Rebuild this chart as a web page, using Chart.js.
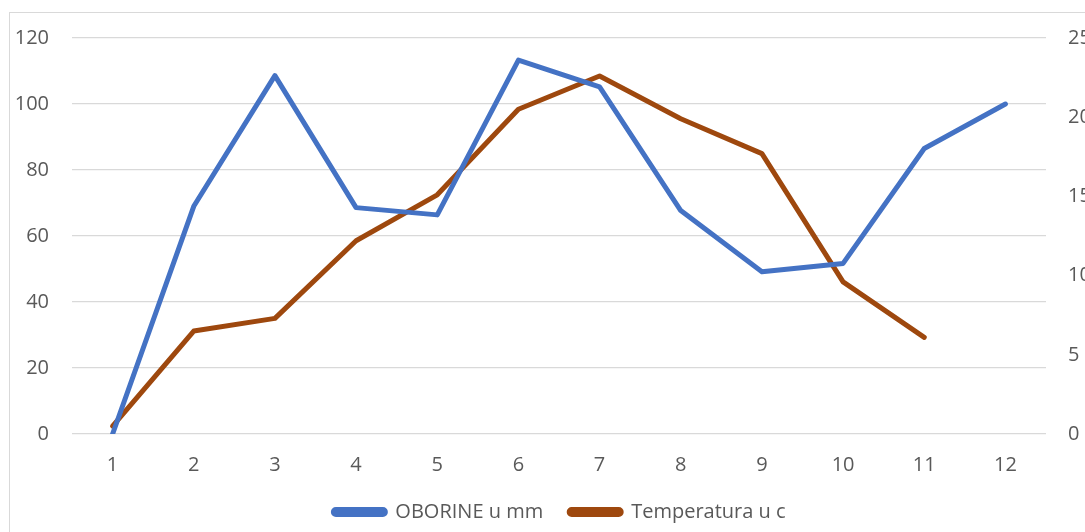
<!DOCTYPE html>
<html>
<head>
<meta charset="utf-8">
<script src="https://cdn.jsdelivr.net/npm/chart.js@4.4.1/dist/chart.umd.min.js"></script>
<style>
  html, body { margin: 0; padding: 0; background: #ffffff; overflow: hidden; }
  #frame { position: absolute; left: 9px; top: 12px; width: 2000px; height: 2000px; border: 1px solid #d9d9d9; box-sizing: border-box; }
  #wrap { position: absolute; left: 0; top: 0; width: 1085px; height: 532px; }
</style>
</head>
<body>
<div id="frame"></div>
<div id="wrap"><canvas id="c" width="1085" height="532"></canvas></div>
<script>
const categories = ['1','2','3','4','5','6','7','8','9','10','11','12'];
const oborine = [0, 69, 108.6, 68.6, 66.4, 113.3, 105.2, 67.7, 49.2, 51.7, 86.5, 100];
const temperatura = [0.5, 6.5, 7.3, 12.2, 15.1, 20.5, 22.6, 19.9, 17.7, 9.6, 6.1, null];
const leftTicks = [0, 20, 40, 60, 80, 100, 120];
const rightTicks = [0, 5, 10, 15, 20, 25];
const seriesNames = ['OBORINE u mm', 'Temperatura u c'];

const FONT = { family: "'Open Sans', 'Noto Sans', sans-serif", size: 20 };
const TEXT = '#595959';
const GRID = '#d9d9d9';

const legendShift = {
  id: 'legendShift',
  afterLayout(chart) {
    const l = chart.legend;
    if (l) { l.left = 34; l.width = l.right - l.left; }
  }
};

new Chart(document.getElementById('c'), {
  type: 'line',
  data: {
    labels: categories,
    datasets: [
      { label: seriesNames[0], data: oborine, yAxisID: 'y', borderColor: '#4472C4', backgroundColor: '#4472C4',
        borderWidth: 5, pointRadius: 0, tension: 0, borderJoinStyle: 'round', borderCapStyle: 'round' },
      { label: seriesNames[1], data: temperatura, yAxisID: 'y1', borderColor: '#9E480E', backgroundColor: '#9E480E',
        borderWidth: 5, pointRadius: 0, tension: 0, borderJoinStyle: 'round', borderCapStyle: 'round', spanGaps: false }
    ]
  },
  options: {
    responsive: false,
    animation: false,
    layout: { padding: { top: 38, left: 0, right: 0, bottom: 0 } },
    plugins: {
      tooltip: { enabled: false },
      legend: {
        position: 'bottom',
        labels: { font: FONT, color: TEXT, boxWidth: 52, boxHeight: 5, padding: 26, useBorderRadius: true, borderRadius: 2.5 }
      }
    },
    scales: {
      x: {
        offset: true,
        grid: { display: false, drawTicks: false },
        border: { display: false },
        ticks: { font: FONT, color: TEXT, padding: 19, maxRotation: 0 },
        afterFit: (s) => { s.height = 42; }
      },
      y: {
        position: 'left',
        min: 0, max: 120,
        afterBuildTicks: (s) => { s.ticks = leftTicks.map(v => ({ value: v })); },
        grid: { color: GRID, lineWidth: 1.3, drawTicks: false },
        border: { display: false },
        ticks: { font: FONT, color: TEXT, padding: 23 },
        afterFit: (s) => { s.width = 72; }
      },
      y1: {
        position: 'right',
        min: 0, max: 25,
        afterBuildTicks: (s) => { s.ticks = rightTicks.map(v => ({ value: v })); },
        grid: { display: false, drawTicks: false },
        border: { display: false },
        ticks: { font: FONT, color: TEXT, padding: 22 },
        afterFit: (s) => { s.width = 39; }
      }
    }
  },
  plugins: [legendShift]
});
</script>
</body>
</html>
